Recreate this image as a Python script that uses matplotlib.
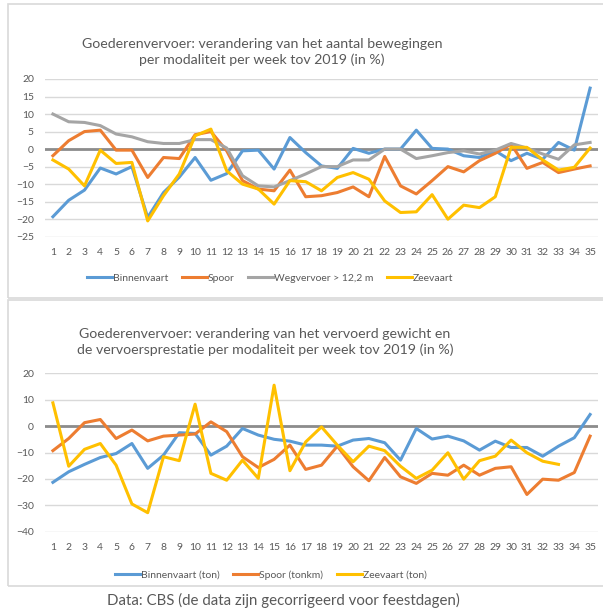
import matplotlib.pyplot as plt
from matplotlib.patches import Rectangle

plt.rcParams['font.family'] = ['Lato', 'DejaVu Sans']

weeks = list(range(1, 36))

# top chart: aantal bewegingen (%)
binnenvaart = [-19.3, -14.6, -11.7, -5.4, -7.1, -5.0, -19.5, -12.4, -8.0, -2.4,
               -8.9, -7.0, -0.5, -0.3, -5.7, 3.3, -1.0, -4.8, -5.5, 0.2,
               -1.2, 0.0, 0.0, 5.4, 0.2, 0.0, -1.9, -2.4, -0.5, -3.3,
               -1.2, -2.9, 1.9, -0.3, 17.4]
spoor = [-1.9, 2.4, 5.0, 5.4, -0.3, -0.3, -8.1, -2.4, -2.7, 4.1,
         5.0, -0.5, -9.0, -11.4, -11.9, -6.0, -13.6, -13.3, -12.4, -10.8,
         -13.6, -2.1, -10.5, -12.8, -9.0, -5.0, -6.5, -3.3, -1.2, 1.4,
         -5.5, -3.8, -6.7, -5.7, -4.8]
wegvervoer = [10.0, 7.8, 7.6, 6.7, 4.3, 3.5, 2.1, 1.6, 1.6, 2.7,
              2.7, 0.3, -7.6, -10.5, -10.8, -9.0, -7.1, -5.0, -5.0, -3.1,
              -3.1, 0.0, 0.0, -2.7, -1.9, -1.0, -0.5, -1.4, -0.3, 1.6,
              0.3, -1.4, -2.9, 1.2, 1.9]
zeevaart = [-3.1, -5.7, -10.5, -0.3, -4.1, -3.8, -20.5, -13.3, -7.1, 3.8,
            5.7, -6.2, -10.0, -11.4, -15.7, -9.0, -9.3, -11.9, -8.1, -6.7,
            -8.6, -14.8, -18.1, -17.9, -13.0, -20.0, -16.0, -16.7, -13.6, 0.5,
            0.5, -3.1, -6.0, -5.2, 0.3]

# bottom chart: gewicht / vervoersprestatie (%)
binnenvaart_ton = [-21.3, -17.3, -14.5, -11.9, -10.4, -6.6, -16.0, -11.0, -2.5, -2.8,
                   -11.0, -7.6, -0.9, -3.4, -5.0, -5.7, -7.2, -7.2, -7.6, -5.3,
                   -4.7, -6.3, -12.9, -0.9, -4.9, -3.8, -5.6, -9.1, -5.7, -8.1,
                   -8.1, -11.4, -7.6, -4.4, 4.4]
spoor_tonkm = [-9.3, -4.7, 1.3, 2.5, -4.7, -1.5, -5.6, -3.8, -3.4, -3.0,
               1.6, -2.1, -11.6, -15.7, -12.6, -7.2, -16.4, -14.8, -7.6, -15.4,
               -20.7, -11.9, -19.2, -21.7, -17.9, -18.6, -14.8, -18.6, -16.0, -15.4,
               -25.9, -20.1, -20.5, -17.6, -3.8]
zeevaart_ton = [8.8, -15.2, -8.8, -6.6, -14.8, -29.5, -32.8, -11.6, -13.1, 8.3,
                -17.9, -20.5, -12.9, -19.8, 15.5, -16.9, -6.0, -0.3, -7.2, -13.5,
                -7.6, -9.3, -15.2, -19.8, -16.7, -10.1, -20.1, -13.1, -11.4, -5.3,
                -10.1, -13.3, -14.5]

blue = '#5B9BD5'
orange = '#ED7D31'
grey = '#A5A5A5'
yellow = '#FFC000'
txt = '#595959'

fig = plt.figure(figsize=(6.03, 6.12), dpi=100)

# panel borders
fig.patches.append(Rectangle((8 / 603, 1 - 298 / 612), 0.99, 294 / 612,
                             transform=fig.transFigure, fill=False,
                             edgecolor='#D9D9D9', linewidth=1.2))
fig.patches.append(Rectangle((8 / 603, 1 - 586 / 612), 0.99, 286 / 612,
                             transform=fig.transFigure, fill=False,
                             edgecolor='#D9D9D9', linewidth=1.2))


def style_axes(ax, ylim, yticks):
    ax.set_xlim(0.5, 35.5)
    ax.set_ylim(*ylim)
    ax.set_yticks(yticks)
    ax.set_xticks(weeks)
    ax.set_xticklabels([str(w) for w in weeks])
    ax.grid(axis='y', color='#D9D9D9', linewidth=1)
    ax.set_axisbelow(True)
    for s in ax.spines.values():
        s.set_visible(False)
    ax.tick_params(length=0, labelsize=7.5, labelcolor=txt, pad=8)
    ax.axhline(0, color='#8C8C8C', linewidth=2, zorder=1)


ax1 = fig.add_axes([45 / 603, 1 - 236.7 / 612, 553 / 603, 157.7 / 612])
style_axes(ax1, (-25, 20), range(-25, 21, 5))
ax1.plot(weeks, binnenvaart, color=blue, lw=2.2, label='Binnenvaart')
ax1.plot(weeks, spoor, color=orange, lw=2.2, label='Spoor')
ax1.plot(weeks, wegvervoer, color=grey, lw=2.2, label='Wegvervoer > 12,2 m')
ax1.plot(weeks, zeevaart, color=yellow, lw=2.2, label='Zeevaart')
ax1.legend(loc='center', bbox_to_anchor=(270 / 603, 1 - 278 / 612),
           bbox_transform=fig.transFigure, ncol=4, frameon=False,
           fontsize=7.5, labelcolor=txt, handlelength=2.4, handletextpad=0.1,
           columnspacing=1.3)
fig.text(262 / 603, 1 - 52 / 612,
         'Goederenvervoer: verandering van het aantal bewegingen\nper modaliteit per week tov 2019 (in %)',
         ha='center', va='center', fontsize=10.2, color=txt, linespacing=1.4)

ax2 = fig.add_axes([45 / 603, 1 - 531.7 / 612, 553 / 603, 158.4 / 612])
style_axes(ax2, (-40, 20), range(-40, 21, 10))
ax2.plot(weeks, binnenvaart_ton, color=blue, lw=2.2, label='Binnenvaart (ton)')
ax2.plot(weeks, spoor_tonkm, color=orange, lw=2.2, label='Spoor (tonkm)')
ax2.plot(weeks[:len(zeevaart_ton)], zeevaart_ton, color=yellow, lw=2.2,
         label='Zeevaart (ton)')
ax2.legend(loc='center', bbox_to_anchor=(271 / 603, 1 - 575 / 612),
           bbox_transform=fig.transFigure, ncol=3, frameon=False,
           fontsize=7.5, labelcolor=txt, handlelength=2.4, handletextpad=0.1,
           columnspacing=1.3)
fig.text(265 / 603, 1 - 342 / 612,
         'Goederenvervoer: verandering van het vervoerd gewicht en\nde vervoersprestatie per modaliteit per week tov 2019 (in %)',
         ha='center', va='center', fontsize=10.2, color=txt, linespacing=1.4)

fig.text(283 / 603, 1 - 600 / 612,
         'Data: CBS (de data zijn gecorrigeerd voor feestdagen)',
         ha='center', va='center', fontsize=10.8, color=txt)

fig.savefig('out.png', dpi=100)
